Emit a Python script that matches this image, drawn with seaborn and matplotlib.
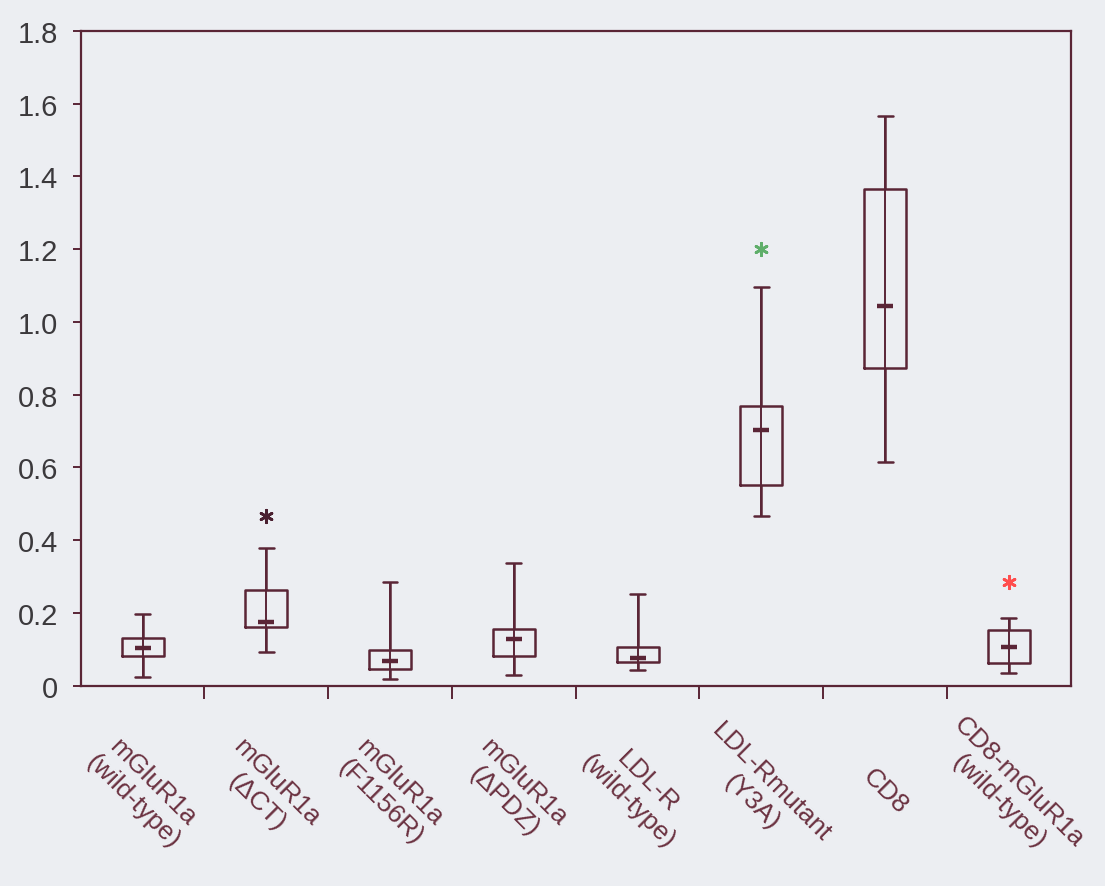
import numpy as np
import pandas as pd
import matplotlib
matplotlib.use("Agg")
import matplotlib.pyplot as plt
import seaborn as sns

# Surface expression per construct: whisker range, box range and mean
categories = [
    "mGluR1a\n(wild-type)",
    "mGluR1a\n(\u0394CT)",
    "mGluR1a\n(F1156R)",
    "mGluR1a\n(\u0394PDZ)",
    "LDL-R\n(wild-type)",
    "LDL-Rmutant\n(Y3A)",
    "CD8",
    "CD8-mGluR1a\n(wild-type)",
]
whisker_low = [0.023, 0.091, 0.018, 0.030, 0.044, 0.466, 0.614, 0.035]
box_low = [0.081, 0.160, 0.045, 0.082, 0.064, 0.552, 0.872, 0.061]
mean_value = [0.103, 0.176, 0.068, 0.127, 0.075, 0.702, 1.043, 0.106]
box_high = [0.131, 0.262, 0.098, 0.155, 0.106, 0.768, 1.364, 0.154]
whisker_high = [0.196, 0.378, 0.284, 0.336, 0.253, 1.096, 1.565, 0.185]

# Significance asterisks
star_group = [1, 5, 7]
star_value = [0.465, 1.20, 0.284]
star_colors = ["#4a1f30", "#5fae6a", "#ff4d4d"]

y_ticks = [0, 0.2, 0.4, 0.6, 0.8, 1.0, 1.2, 1.4, 1.6, 1.8]
y_tick_labels = ["0", "0.2", "0.4", "0.6", "0.8", "1.0", "1.2", "1.4", "1.6", "1.8"]

LINE = "#5a2536"
BG = "#eceef2"

sns.set_style("white")
plt.rcParams["font.family"] = ["Liberation Sans", "DejaVu Sans"]

# Five summary values per group; with whis=(0, 100) the box spans the
# 25th-75th percentiles (q1, q3) and the whiskers reach min and max.
rows = []
for i, cat in enumerate(categories):
    for v in (whisker_low[i], box_low[i], mean_value[i], box_high[i], whisker_high[i]):
        rows.append({"group": cat, "value": v})
df = pd.DataFrame(rows)

fig = plt.figure(figsize=(11.05, 8.87), dpi=100, facecolor=BG)
ax = fig.add_axes([0.073, 0.226, 0.896, 0.738])
ax.set_facecolor(BG)

sns.boxplot(
    data=df, x="group", y="value", order=categories,
    whis=(0, 100), fill=False, width=0.34, color=LINE, linewidth=1.8,
    medianprops={"visible": False}, showfliers=False,
    capwidths=0.12, ax=ax,
)

# whisker line runs through the box
ax.vlines(range(len(categories)), whisker_low, whisker_high, color=LINE, lw=1.4, zorder=3)

# mean dash
sns.scatterplot(x=list(range(len(categories))), y=mean_value, marker="_", s=120,
                linewidth=3.2, color=LINE, ax=ax, zorder=4, legend=False)

# asterisks
for g, v, c in zip(star_group, star_value, star_colors):
    ax.scatter([g], [v], marker=(6, 2, 0), s=80, linewidths=2.0, color=c, zorder=5)

ax.set_xlim(-0.5, len(categories) - 0.5)
ax.set_ylim(0, 1.8)
ax.set_xlabel("")
ax.set_ylabel("")

ax.set_yticks(y_ticks, labels=y_tick_labels)
ax.set_xticks(range(len(categories)), labels=categories)
ax.set_xticks(np.arange(0.5, len(categories) - 0.5, 1.0), minor=True)

ax.tick_params(axis="y", which="major", direction="out", length=6, width=1.4,
               color=LINE, labelsize=21, labelcolor="#3b393c", pad=10, left=True)
ax.tick_params(axis="x", which="major", length=0, pad=76,
               labelsize=19, labelcolor="#6a3140")
ax.tick_params(axis="x", which="minor", direction="out", length=9, width=1.4,
               color=LINE, bottom=True)

for lab in ax.get_xticklabels():
    lab.set_rotation(-45)
    lab.set_ha("center")
    lab.set_va("center")
    lab.set_multialignment("center")
    lab.set_linespacing(1.2)

for sp in ax.spines.values():
    sp.set_visible(True)
    sp.set_color(LINE)
    sp.set_linewidth(1.6)

fig.savefig("out.png", dpi=100, facecolor=BG)
